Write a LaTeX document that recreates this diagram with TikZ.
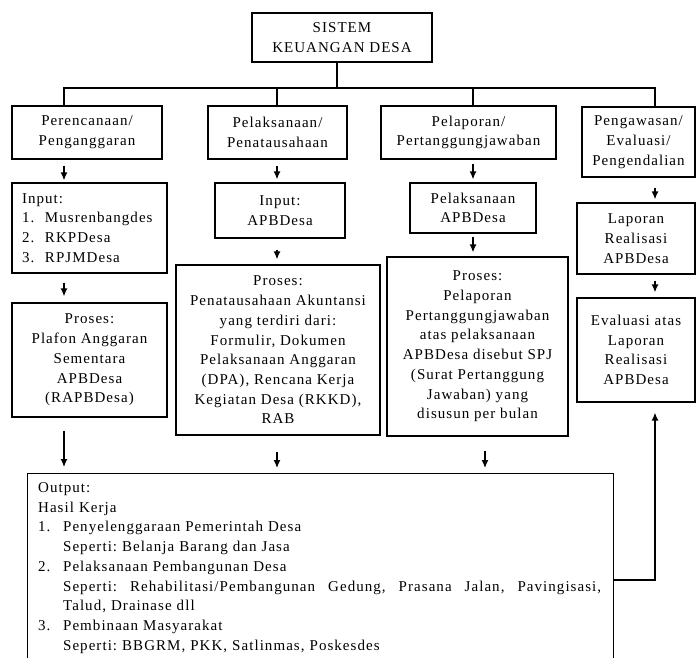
\documentclass[tikz,border=0pt]{standalone}
\usepackage{fontspec}
\setmainfont{Liberation Serif}[LetterSpace=7]
\usetikzlibrary{arrows.meta}
\frenchspacing
\begin{document}
\begin{tikzpicture}[x=1pt,y=-1pt,
  every node/.style={font=\fontsize{15}{19.7}\selectfont},
  box/.style={draw, line width=1.3pt, inner sep=0pt, align=center},
  link/.style={line width=1.3pt},
  arr/.style={line width=1.3pt, -{Latex[length=8pt,width=7pt]}}]
\useasboundingbox (0,0) rectangle (696,658);
\fill[white] (0,0) rectangle (696,658);
\clip (0,0) rectangle (696,658);

% boxes
\node[box, minimum width=180pt, minimum height=49pt] (top) at (342,37.5) {SISTEM\\KEUANGAN DESA};
\node[box, minimum width=150pt, minimum height=53pt] (b1) at (87,132.5) {Perencanaan/\\Penganggaran};
\node[box, minimum width=139pt, minimum height=53pt] (b2) at (277.5,132.5) {Pelaksanaan/\\Penatausahaan};
\node[box, minimum width=175pt, minimum height=53pt] (b3) at (468.5,132.5) {Pelaporan/\\Pertanggungjawaban};
\node[box, minimum width=113pt, minimum height=70pt] (b4) at (638.5,142) {Pengawasan/\\Evaluasi/\\Pengendalian};

\node[box, minimum width=155pt, minimum height=90pt, text width=135pt, align=left] (in1) at (89.5,228)
  {Input:\\\makebox[23pt][l]{1.}Musrenbangdes\\\makebox[23pt][l]{2.}RKPDesa\\\makebox[23pt][l]{3.}RPJMDesa};
\node[box, minimum width=130pt, minimum height=55pt] (in2) at (280,210.5) {Input:\\APBDesa};
\node[box, minimum width=126pt, minimum height=50pt] (in3) at (473,208) {Pelaksanaan\\APBDesa};
\node[box, minimum width=118pt, minimum height=71pt] (lap) at (636,238.5) {Laporan\\Realisasi\\APBDesa};

\node[box, minimum width=155pt, minimum height=114pt] (pr1) at (89.5,360) {Proses:\\Plafon Anggaran\\Sementara\\APBDesa\\(RAPBDesa)};
\node[box, minimum width=204pt, minimum height=170pt] (pr2) at (278,350) {Proses:\\Penatausahaan Akuntansi\\yang terdiri dari:\\Formulir, Dokumen\\Pelaksanaan Anggaran\\(DPA), Rencana Kerja\\Kegiatan Desa (RKKD),\\RAB};
\node[box, minimum width=181pt, minimum height=179pt] (pr3) at (477.5,346.5) {Proses:\\Pelaporan\\Pertanggungjawaban\\atas pelaksanaan\\APBDesa disebut SPJ\\(Surat Pertanggung\\Jawaban) yang\\disusun per bulan};
\node[box, minimum width=118pt, minimum height=104pt] (eval) at (636,350) {Evaluasi atas\\Laporan\\Realisasi\\APBDesa};

\node[draw, line width=1.3pt, anchor=north west, inner xsep=10.5pt, inner ysep=9pt, text width=565pt, align=left] (out) at (27,473)
  {Output:\\
   Hasil Kerja\\
   \makebox[25pt][l]{1.}Penyelenggaraan Pemerintah Desa\\
   \hspace*{25pt}Seperti: Belanja Barang dan Jasa\\
   \makebox[25pt][l]{2.}Pelaksanaan Pembangunan Desa\\
   \hspace*{25pt}\hbox to 538pt{Seperti:\hfill Rehabilitasi/Pembangunan\hfill Gedung,\hfill Prasana\hfill Jalan,\hfill Pavingisasi,}\\
   \hspace*{25pt}Talud, Drainase dll\\
   \makebox[25pt][l]{3.}Pembinaan Masyarakat\\
   \hspace*{25pt}Seperti: BBGRM, PKK, Satlinmas, Poskesdes};

% column coordinates
\coordinate (c0) at (337,88);
\coordinate (c1) at (64,88);
\coordinate (c2) at (277,88);
\coordinate (c3) at (473,88);
\coordinate (c4) at (655,88);
\coordinate (c3b) at (485,88);
\coordinate (fb) at (655,580);

% tree
\draw[link] (c0 |- top.south) -- (c0);
\draw[link] (c1 |- b1.north) -- (c1) -- (c4) -- (c4 |- b4.north);
\draw[link] (c2) -- (c2 |- b2.north);
\draw[link] (c3) -- (c3 |- b3.north);

% arrows
\draw[arr, shorten <=6pt, shorten >=2pt] (c1 |- b1.south) -- (c1 |- in1.north);
\draw[arr, shorten <=6pt, shorten >=3pt] (c2 |- b2.south) -- (c2 |- in2.north);
\draw[arr, shorten <=4pt, shorten >=3pt] (c3 |- b3.south) -- (c3 |- in3.north);
\draw[arr, shorten <=10pt, shorten >=3pt] (c4 |- b4.south) -- (c4 |- lap.north);

\draw[arr, shorten <=9pt, shorten >=6pt] (c1 |- in1.south) -- (c1 |- pr1.north);
\draw[arr, shorten <=11pt, shorten >=5pt] (c2 |- in2.south) -- (c2 |- pr2.north);
\draw[arr, shorten <=3pt, shorten >=4pt] (c3 |- in3.south) -- (c3 |- pr3.north);
\draw[arr, shorten <=6pt, shorten >=5pt] (c4 |- lap.south) -- (c4 |- eval.north);

\draw[arr, shorten <=13pt, shorten >=6pt] (c1 |- pr1.south) -- (c1 |- out.north);
\draw[arr, shorten <=16pt, shorten >=5pt] (c2 |- pr2.south) -- (c2 |- out.north);
\draw[arr, shorten <=14pt, shorten >=5pt] (c3b |- pr3.south) -- (c3b |- out.north);

\draw[arr, shorten >=10pt] (out.east |- fb) -- (fb) -- (eval.south -| fb);
\end{tikzpicture}
\end{document}
